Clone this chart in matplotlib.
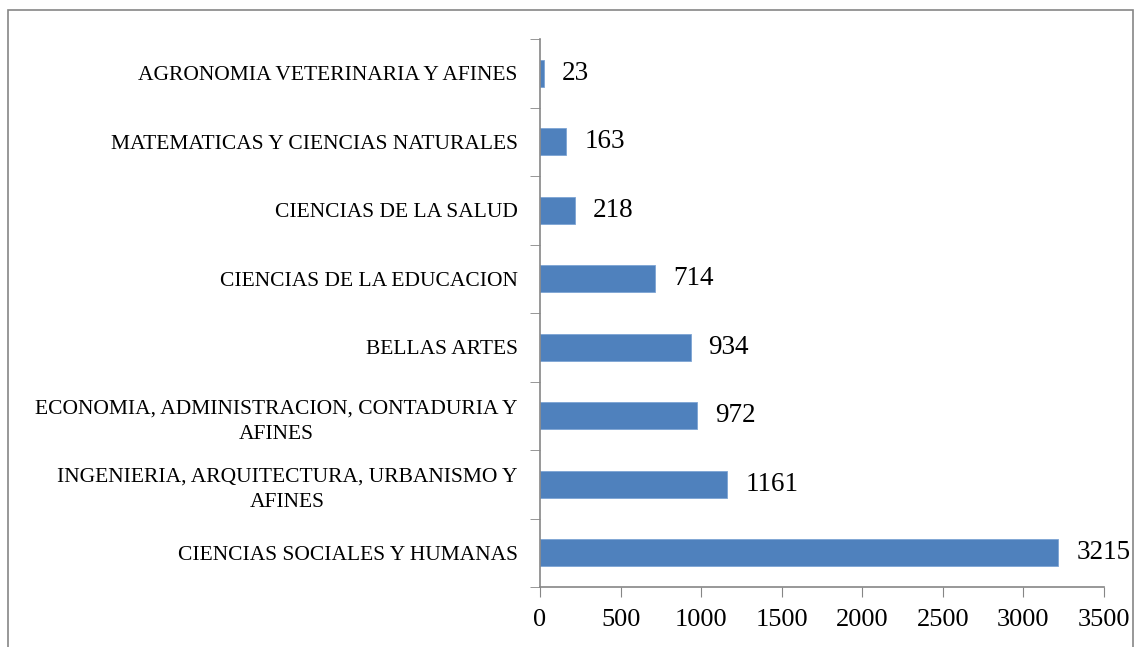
import matplotlib.pyplot as plt
from matplotlib.patches import Rectangle

plt.rcParams['font.family'] = ['Liberation Serif', 'DejaVu Serif']

# Data (bottom to top)
categories = [
    'CIENCIAS SOCIALES Y HUMANAS',
    'INGENIERIA, ARQUITECTURA, URBANISMO Y\nAFINES',
    'ECONOMIA, ADMINISTRACION, CONTADURIA Y\nAFINES',
    'BELLAS ARTES',
    'CIENCIAS DE LA EDUCACION',
    'CIENCIAS DE LA SALUD',
    'MATEMATICAS Y CIENCIAS NATURALES',
    'AGRONOMIA VETERINARIA Y AFINES',
]
values = [3215, 1161, 972, 934, 714, 218, 163, 23]
x_ticks = [0, 500, 1000, 1500, 2000, 2500, 3000, 3500]

BAR_COLOR = '#4F81BD'
AXIS_COLOR = '#868686'

fig = plt.figure(figsize=(11.38, 6.47), dpi=100)
ax = fig.add_axes([540 / 1138, 1 - 587 / 647, 564 / 1138, 548 / 647])

# outer frame of the chart area
fig.patches.append(Rectangle((8 / 1138, -0.1), 1125 / 1138, 1.1 - 10 / 647,
                             transform=fig.transFigure, fill=False,
                             edgecolor=AXIS_COLOR, linewidth=1.2))

pos = list(range(len(categories)))
ax.barh(pos, values, height=0.4, color=BAR_COLOR, edgecolor='#7da4d4', linewidth=0.6)

for y, v in zip(pos, values):
    ax.annotate(str(v), (v, y), xytext=(13, 0), textcoords='offset points',
                va='center', ha='left', fontsize=19.5)

ax.set_xlim(0, 3500)
ax.set_ylim(-0.5, len(categories) - 0.5)
ax.set_xticks(x_ticks)
ax.set_xticklabels([str(t) for t in x_ticks], fontsize=19)

ax.set_yticks(pos)
ax.set_yticklabels(categories, fontsize=15.5, multialignment='center', linespacing=1.45)
ax.set_yticks([p - 0.5 for p in pos] + [len(categories) - 0.5], minor=True)
ax.tick_params(axis='y', which='major', length=0, pad=16)
ax.tick_params(axis='y', which='minor', length=7, color=AXIS_COLOR, direction='out')
ax.tick_params(axis='x', length=7, color=AXIS_COLOR, direction='out', pad=9)

for side in ['top', 'right']:
    ax.spines[side].set_visible(False)
for side in ['left', 'bottom']:
    ax.spines[side].set_color(AXIS_COLOR)
    ax.spines[side].set_linewidth(1.2)

fig.savefig('out.png', dpi=100)
